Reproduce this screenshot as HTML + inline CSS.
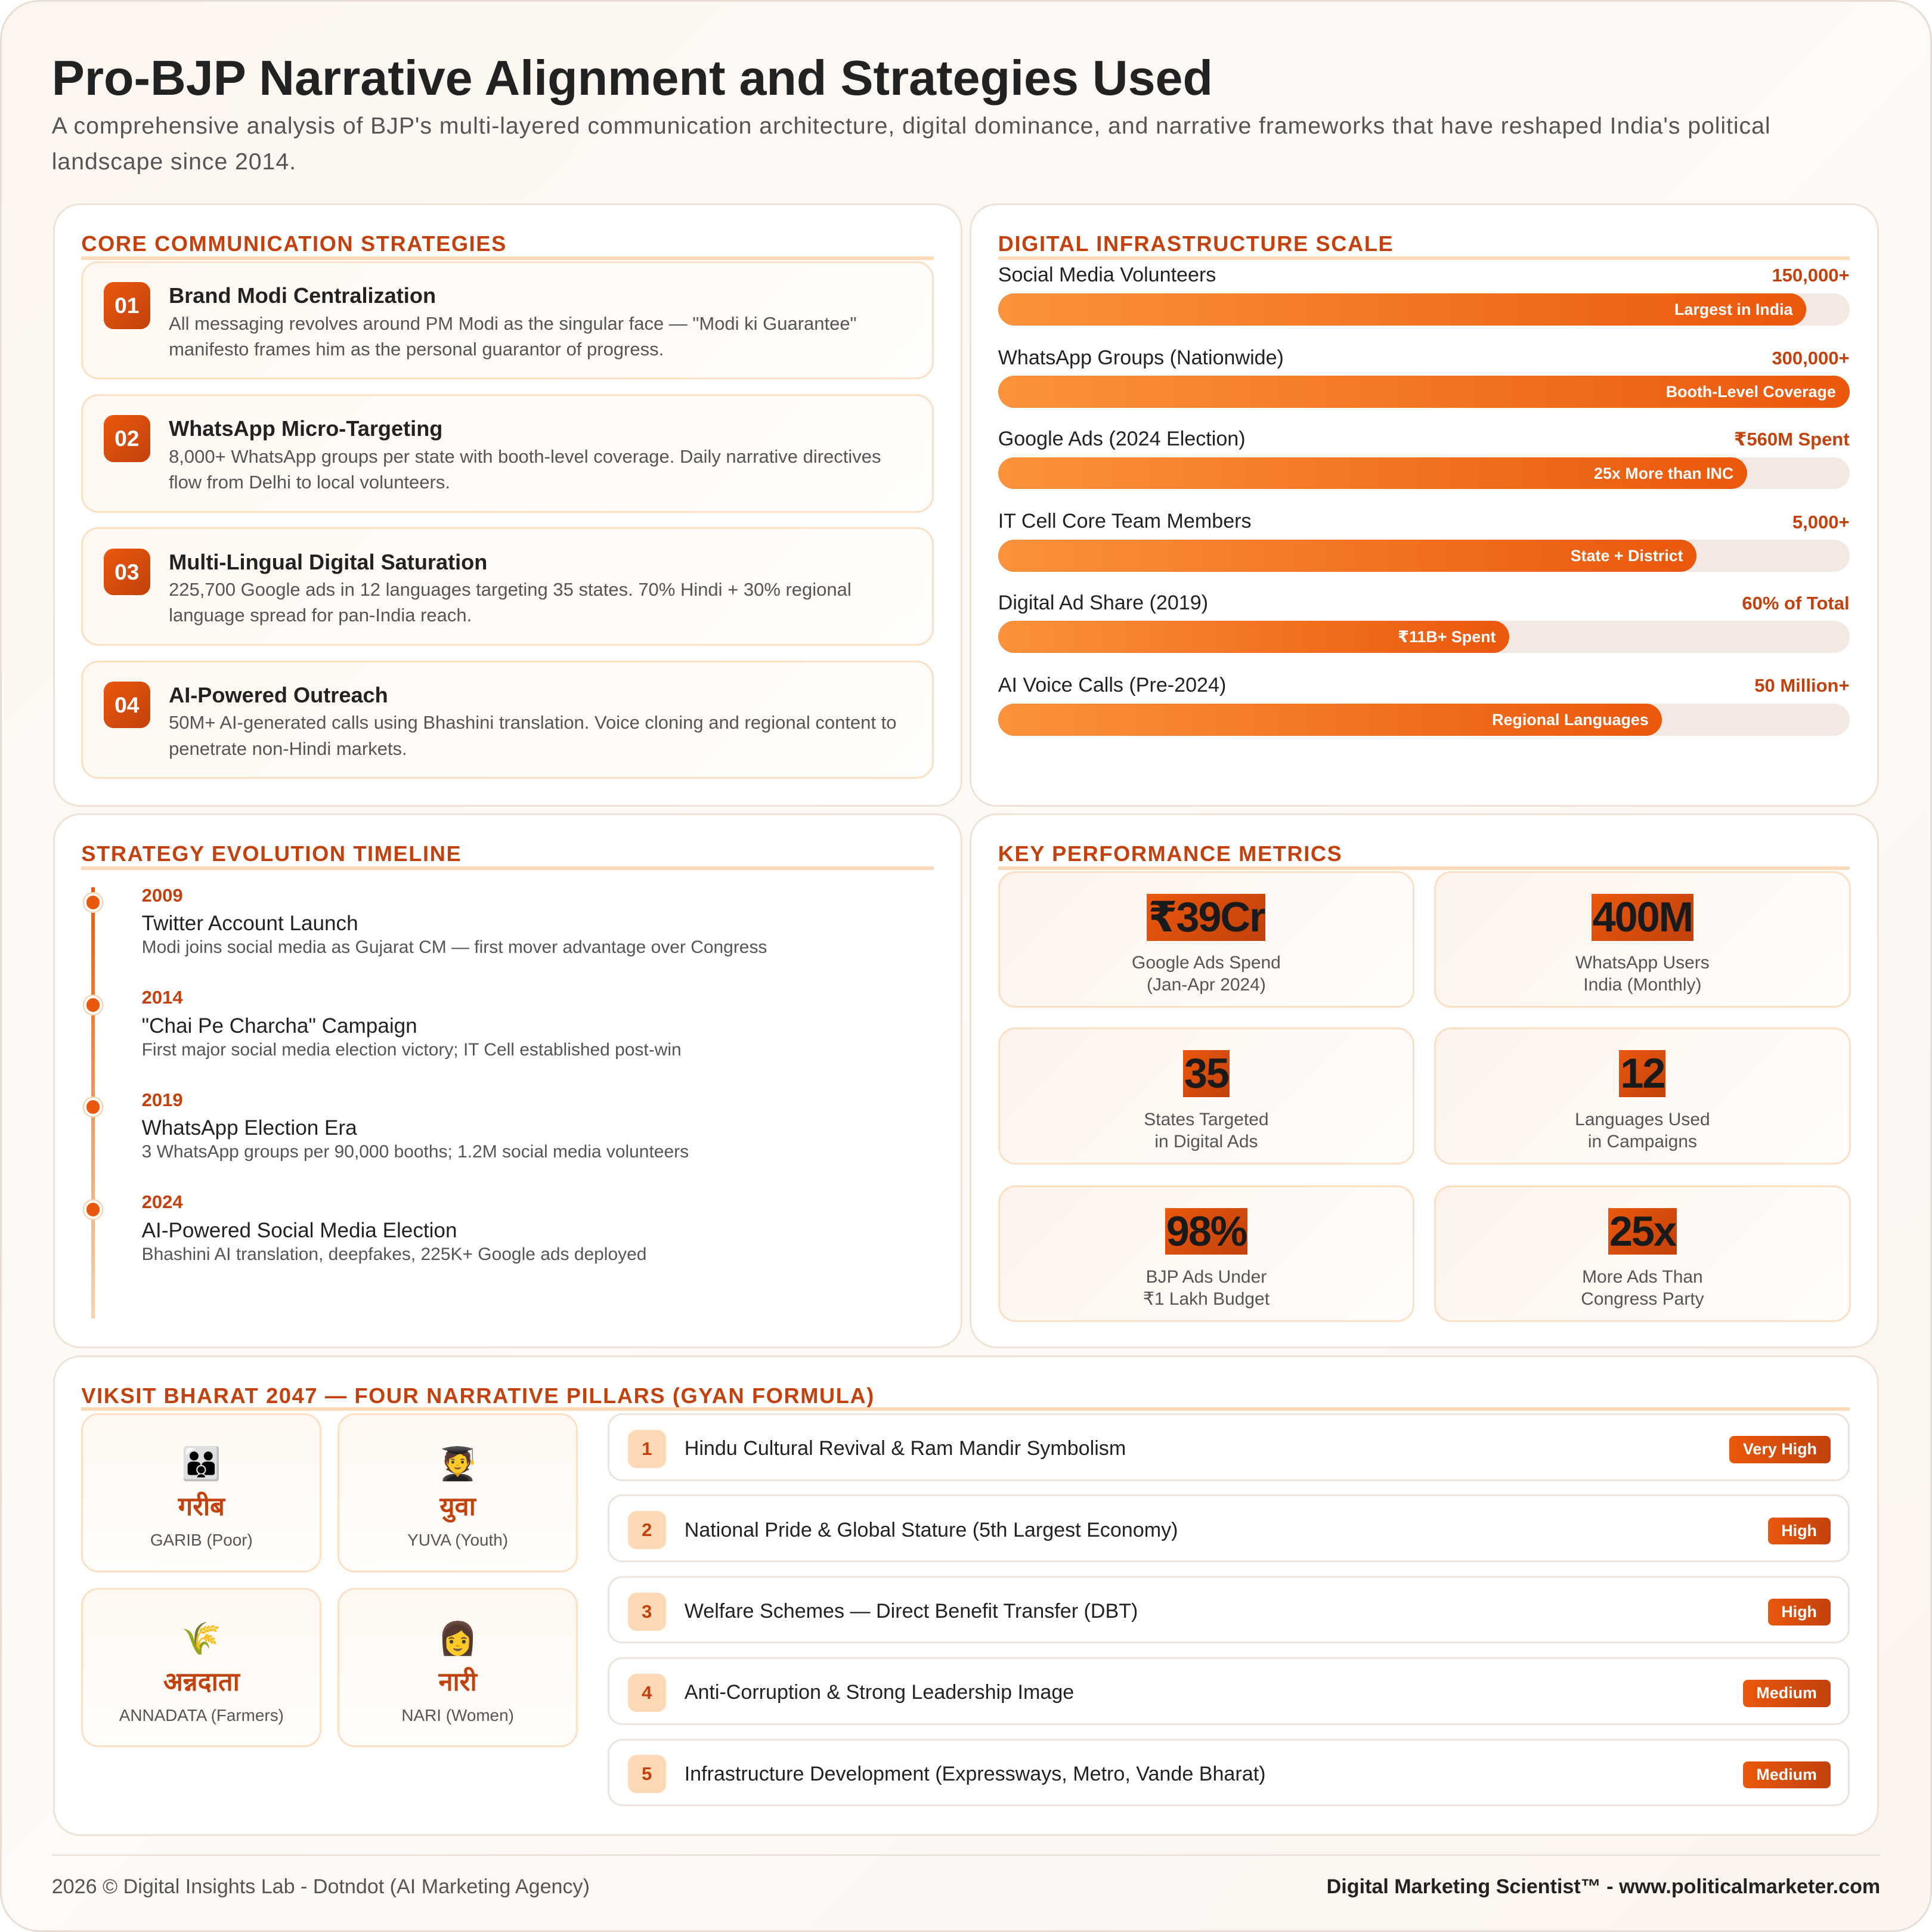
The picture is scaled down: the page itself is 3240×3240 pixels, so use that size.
<!DOCTYPE html>
<html><head><meta charset="utf-8"><style>
*{margin:0;padding:0;box-sizing:border-box}
html,body{width:3240px;height:3240px;background:#fff;overflow:hidden}
#w{zoom:2.06633;width:1568px;height:1568px;position:relative;font-family:"Liberation Sans","DejaVu Sans",sans-serif;color:#222}
.abs{position:absolute}
.outer{left:0;top:0;width:1568px;height:1568px;border:1.5px solid #e8ded5;border-radius:32px;background:linear-gradient(135deg,#fdf6f0,#fdfaf7 50%,#fcf4ee)}
.panel{position:absolute;background:#fff;border:1.5px solid #efe2d6;border-radius:22px}
.h{position:absolute;font-size:17.5px;font-weight:bold;color:#c2410c;letter-spacing:0.8px;white-space:nowrap}
.ul{position:absolute;height:3px;background:#fcd9b8}
.card{position:absolute;background:linear-gradient(135deg,#fff8f2,#fffdfb);border:1.5px solid #fbe0c4;border-radius:14px}
.badge{position:absolute;width:38px;height:38px;border-radius:8px;background:linear-gradient(135deg,#ea580c,#c2410c);color:#fff;font-weight:bold;font-size:18px;text-align:center;line-height:38px}
.ct{position:absolute;font-size:17.5px;font-weight:bold;color:#222;white-space:nowrap}
.cd{position:absolute;font-size:15px;color:#555;line-height:21px;width:605px}
.bl{position:absolute;font-size:16.5px;color:#222;white-space:nowrap}
.bv{position:absolute;font-size:15px;font-weight:bold;color:#c2410c;right:67px;text-align:right;white-space:nowrap}
.bt{position:absolute;left:810px;width:691px;height:26px;border-radius:13px;background:#f3e9e2}
.bf{position:absolute;left:0;top:0;height:26px;border-radius:13px;background:linear-gradient(90deg,#fb923c,#ea580c);color:#fff;font-size:13px;font-weight:bold;text-align:right;padding-right:11px;line-height:27px;white-space:nowrap}
.yr{position:absolute;left:115px;font-size:15px;font-weight:bold;color:#c2410c}
.tt{position:absolute;left:115px;font-size:17px;color:#222;white-space:nowrap}
.td{position:absolute;left:115px;font-size:14.5px;color:#555;white-space:nowrap}
.dot{position:absolute;left:68px;width:15px;height:15px;border-radius:50%;background:#ea580c;border:2px solid #fff;box-shadow:0 0 0 1px #fbd0a8}
.mc{position:absolute;width:338px;height:111px;background:linear-gradient(135deg,#fdf3ec,#fffdfb);border:1.5px solid #fbe0c4;border-radius:14px;text-align:center}
.mn{display:inline-block;margin-top:17px;font-size:34px;font-weight:bold;color:#1a1a1a;background:linear-gradient(135deg,#ea580c,#c2410c);line-height:38px;padding:0 1px;letter-spacing:-1px}
.ml{font-size:14.5px;color:#555;line-height:18px;margin-top:9px}
.pc{position:absolute;width:195px;height:129px;background:linear-gradient(180deg,#fff8f2,#fffdfb);border:1.5px solid #fbe0c4;border-radius:14px;text-align:center}
.em{font-size:26px;margin-top:25px;line-height:30px}
.hi{font-size:21px;font-weight:bold;color:#c2410c;margin-top:6px;line-height:28px}
.en{font-size:13.5px;color:#555;margin-top:5px}
.row{position:absolute;left:493px;width:1008px;height:55px;background:#fff;border:1.5px solid #ece4dd;border-radius:12px}
.rn{position:absolute;left:15px;top:12px;width:31px;height:31px;border-radius:7px;background:#fdd9b5;color:#c2410c;font-weight:bold;font-size:15px;text-align:center;line-height:31px}
.rt{position:absolute;left:61px;top:18px;font-size:16.5px;color:#222;white-space:nowrap}
.pill{position:absolute;right:14px;top:17px;height:22px;border-radius:4px;background:linear-gradient(90deg,#ea580c,#c2410c);color:#fff;font-size:13px;font-weight:bold;line-height:22px;padding:0 11px}
</style></head><body><div id="w">
<div class="abs outer"></div>
<div class="abs" style="left:42px;top:40px;font-size:40px;font-weight:bold;color:#222;white-space:nowrap">Pro-BJP Narrative Alignment and Strategies Used</div>
<div class="abs" style="left:42px;top:88px;width:1440px;font-size:19px;letter-spacing:0.45px;color:#555;line-height:29px">A comprehensive analysis of BJP's multi-layered communication architecture, digital dominance, and narrative frameworks that have reshaped India's political landscape since 2014.</div>

<div class="panel" style="left:43px;top:165px;width:738px;height:490px"></div>
<div class="panel" style="left:787px;top:165px;width:738px;height:490px"></div>
<div class="panel" style="left:43px;top:660px;width:738px;height:434px"></div>
<div class="panel" style="left:787px;top:660px;width:738px;height:434px"></div>
<div class="panel" style="left:43px;top:1100px;width:1482px;height:390px"></div>

<div class="h" style="left:66px;top:188px">CORE COMMUNICATION STRATEGIES</div>
<div class="ul" style="left:66px;top:208px;width:692px"></div>
<div class="card" style="left:66px;top:212px;width:692px;height:96px"></div>
<div class="badge" style="left:84px;top:229px">01</div>
<div class="ct" style="left:137px;top:230px">Brand Modi Centralization</div>
<div class="cd" style="left:137px;top:252px">All messaging revolves around PM Modi as the singular face — "Modi ki Guarantee" manifesto frames him as the personal guarantor of progress.</div>
<div class="card" style="left:66px;top:320px;width:692px;height:96px"></div>
<div class="badge" style="left:84px;top:337px">02</div>
<div class="ct" style="left:137px;top:338px">WhatsApp Micro-Targeting</div>
<div class="cd" style="left:137px;top:360px">8,000+ WhatsApp groups per state with booth-level coverage. Daily narrative directives flow from Delhi to local volunteers.</div>
<div class="card" style="left:66px;top:428px;width:692px;height:96px"></div>
<div class="badge" style="left:84px;top:445px">03</div>
<div class="ct" style="left:137px;top:446px">Multi-Lingual Digital Saturation</div>
<div class="cd" style="left:137px;top:468px">225,700 Google ads in 12 languages targeting 35 states. 70% Hindi + 30% regional language spread for pan-India reach.</div>
<div class="card" style="left:66px;top:536px;width:692px;height:96px"></div>
<div class="badge" style="left:84px;top:553px">04</div>
<div class="ct" style="left:137px;top:554px">AI-Powered Outreach</div>
<div class="cd" style="left:137px;top:576px">50M+ AI-generated calls using Bhashini translation. Voice cloning and regional content to penetrate non-Hindi markets.</div>

<div class="h" style="left:810px;top:188px">DIGITAL INFRASTRUCTURE SCALE</div>
<div class="ul" style="left:810px;top:208px;width:691px"></div>
<div class="bl" style="left:810px;top:214px">Social Media Volunteers</div><div class="bv" style="top:215px">150,000+</div>
<div class="bt" style="top:238px"><div class="bf" style="width:656px">Largest in India</div></div>
<div class="bl" style="left:810px;top:281px">WhatsApp Groups (Nationwide)</div><div class="bv" style="top:282px">300,000+</div>
<div class="bt" style="top:305px"><div class="bf" style="width:691px">Booth-Level Coverage</div></div>
<div class="bl" style="left:810px;top:347px">Google Ads (2024 Election)</div><div class="bv" style="top:348px">₹560M Spent</div>
<div class="bt" style="top:371px"><div class="bf" style="width:608px">25x More than INC</div></div>
<div class="bl" style="left:810px;top:414px">IT Cell Core Team Members</div><div class="bv" style="top:415px">5,000+</div>
<div class="bt" style="top:438px"><div class="bf" style="width:567px">State + District</div></div>
<div class="bl" style="left:810px;top:480px">Digital Ad Share (2019)</div><div class="bv" style="top:481px">60% of Total</div>
<div class="bt" style="top:504px"><div class="bf" style="width:415px">₹11B+ Spent</div></div>
<div class="bl" style="left:810px;top:547px">AI Voice Calls (Pre-2024)</div><div class="bv" style="top:548px">50 Million+</div>
<div class="bt" style="top:571px"><div class="bf" style="width:539px">Regional Languages</div></div>

<div class="h" style="left:66px;top:683px">STRATEGY EVOLUTION TIMELINE</div>
<div class="ul" style="left:66px;top:703px;width:692px"></div>
<div class="abs" style="left:74px;top:720px;width:3px;height:350px;background:linear-gradient(180deg,#ea580c,#fcd3ae)"></div>
<div class="dot" style="top:725px"></div><div class="dot" style="top:808px"></div><div class="dot" style="top:891px"></div><div class="dot" style="top:974px"></div>
<div class="yr" style="top:718px">2009</div><div class="tt" style="top:740px">Twitter Account Launch</div><div class="td" style="top:761px">Modi joins social media as Gujarat CM — first mover advantage over Congress</div>
<div class="yr" style="top:801px">2014</div><div class="tt" style="top:823px">"Chai Pe Charcha" Campaign</div><div class="td" style="top:844px">First major social media election victory; IT Cell established post-win</div>
<div class="yr" style="top:884px">2019</div><div class="tt" style="top:906px">WhatsApp Election Era</div><div class="td" style="top:927px">3 WhatsApp groups per 90,000 booths; 1.2M social media volunteers</div>
<div class="yr" style="top:967px">2024</div><div class="tt" style="top:989px">AI-Powered Social Media Election</div><div class="td" style="top:1010px">Bhashini AI translation, deepfakes, 225K+ Google ads deployed</div>

<div class="h" style="left:810px;top:683px">KEY PERFORMANCE METRICS</div>
<div class="ul" style="left:810px;top:703px;width:691px"></div>
<div class="mc" style="left:810px;top:707px"><div class="mn">₹39Cr</div><div class="ml">Google Ads Spend<br>(Jan-Apr 2024)</div></div>
<div class="mc" style="left:1164px;top:707px"><div class="mn">400M</div><div class="ml">WhatsApp Users<br>India (Monthly)</div></div>
<div class="mc" style="left:810px;top:834px"><div class="mn">35</div><div class="ml">States Targeted<br>in Digital Ads</div></div>
<div class="mc" style="left:1164px;top:834px"><div class="mn">12</div><div class="ml">Languages Used<br>in Campaigns</div></div>
<div class="mc" style="left:810px;top:962px"><div class="mn">98%</div><div class="ml">BJP Ads Under<br>₹1 Lakh Budget</div></div>
<div class="mc" style="left:1164px;top:962px"><div class="mn">25x</div><div class="ml">More Ads Than<br>Congress Party</div></div>

<div class="h" style="left:66px;top:1123px">VIKSIT BHARAT 2047 — FOUR NARRATIVE PILLARS (GYAN FORMULA)</div>
<div class="ul" style="left:66px;top:1142px;width:1435px"></div>
<div class="pc" style="left:66px;top:1147px"><div class="em">👪</div><div class="hi">गरीब</div><div class="en">GARIB (Poor)</div></div>
<div class="pc" style="left:274px;top:1147px"><div class="em">🧑‍🎓</div><div class="hi">युवा</div><div class="en">YUVA (Youth)</div></div>
<div class="pc" style="left:66px;top:1289px"><div class="em">🌾</div><div class="hi">अन्नदाता</div><div class="en">ANNADATA (Farmers)</div></div>
<div class="pc" style="left:274px;top:1289px"><div class="em">👩</div><div class="hi">नारी</div><div class="en">NARI (Women)</div></div>
<div class="row" style="top:1147px"><div class="rn">1</div><div class="rt">Hindu Cultural Revival &amp; Ram Mandir Symbolism</div><div class="pill">Very High</div></div>
<div class="row" style="top:1213px"><div class="rn">2</div><div class="rt">National Pride &amp; Global Stature (5th Largest Economy)</div><div class="pill">High</div></div>
<div class="row" style="top:1279px"><div class="rn">3</div><div class="rt">Welfare Schemes — Direct Benefit Transfer (DBT)</div><div class="pill">High</div></div>
<div class="row" style="top:1345px"><div class="rn">4</div><div class="rt">Anti-Corruption &amp; Strong Leadership Image</div><div class="pill">Medium</div></div>
<div class="row" style="top:1411px"><div class="rn">5</div><div class="rt">Infrastructure Development (Expressways, Metro, Vande Bharat)</div><div class="pill">Medium</div></div>

<div class="abs" style="left:42px;top:1505px;width:1484px;height:1px;background:#e6dcd3"></div>
<div class="abs" style="left:42px;top:1522px;font-size:16.5px;color:#555;white-space:nowrap">2026 © Digital Insights Lab - Dotndot (AI Marketing Agency)</div>
<div class="abs" style="right:42px;top:1522px;font-size:16.5px;font-weight:bold;color:#222;white-space:nowrap">Digital Marketing Scientist™ - www.politicalmarketer.com</div>
</div></body></html>
